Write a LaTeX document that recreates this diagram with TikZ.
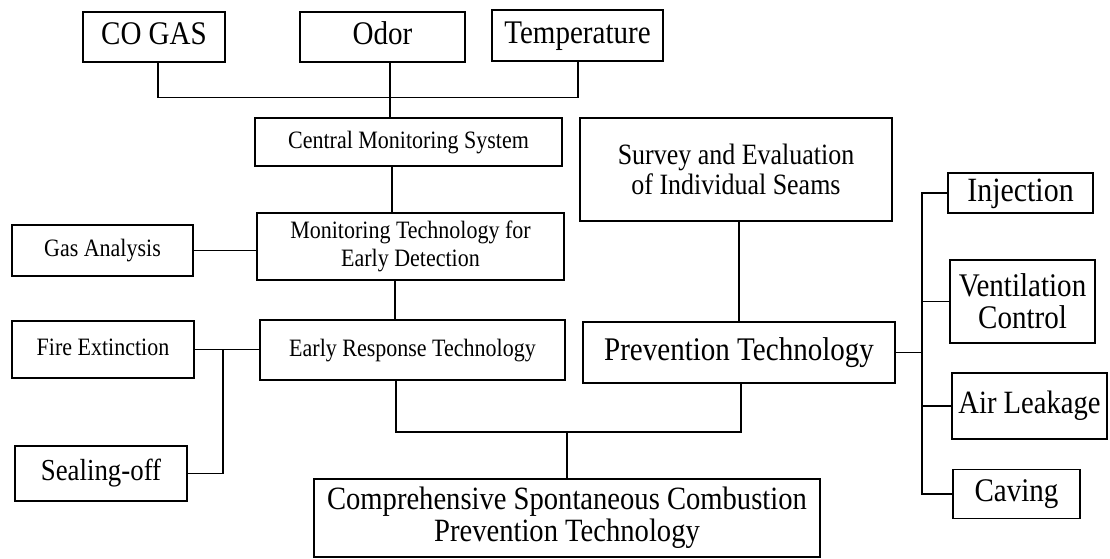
\documentclass[tikz,border=0pt]{standalone}
\usepackage{fontspec}
\setmainfont{Liberation Serif}[FakeStretch=0.88]
\newcommand\fsz[2]{\fontsize{#1pt}{#2pt}\selectfont}
\begin{document}
\begin{tikzpicture}[x=1pt,y=-1pt,
  box/.style={draw, line width=1.5pt, rectangle, inner sep=0pt, align=center},
  oneline/.style={box, font=\fsz{#1}{#1}, text height=0.68*#1pt, text depth=0.2*#1pt},
  link/.style={line width=1.8pt}]
\useasboundingbox[fill=white] (0,0) rectangle (1110,558);

% sensor inputs
\node[oneline=33, minimum width=142pt, minimum height=50pt] (cogas) at (154,37) {CO GAS};
\node[oneline=33, minimum width=165pt, minimum height=50pt] (odor) at (382.5,37) {Odor};
\node[oneline=33, minimum width=171pt, minimum height=51pt] (temp) at (577.5,35.5) {Temperature};

% detection and response chain
\node[oneline=25, minimum width=307pt, minimum height=48pt] (central) at (408.5,142) {Central Monitoring System};
\node[box, minimum width=307pt, minimum height=67pt, font=\fsz{25}{28}] (montech) at (410.5,246.5) {Monitoring Technology for\\Early Detection};
\node[oneline=25, minimum width=305pt, minimum height=60pt] (early) at (412.5,350) {Early Response Technology};

% left side measures
\node[oneline=25, minimum width=181pt, minimum height=51pt] (gas) at (102.5,250.5) {Gas Analysis};
\node[oneline=25, minimum width=182pt, minimum height=57pt] (fire) at (103,349.5) {Fire Extinction};
\node[oneline=30.5, minimum width=172pt, minimum height=55pt] (seal) at (101,473.5) {Sealing-off};

% prevention branch
\node[box, minimum width=312pt, minimum height=103pt, font=\fsz{29.5}{30}] (survey) at (736,169.5) {Survey and Evaluation\\of Individual Seams};
\node[oneline=33, minimum width=312pt, minimum height=61pt] (prev) at (739,352.5) {Prevention Technology};

% prevention methods
\node[oneline=34, minimum width=145pt, minimum height=40pt] (inj) at (1020.5,193) {Injection};
\node[box, minimum width=145pt, minimum height=83pt, font=\fsz{33}{32}] (vent) at (1022.5,301.5) {Ventilation\\Control};
\node[oneline=32.5, minimum width=155pt, minimum height=66pt] (air) at (1029.5,406) {Air Leakage};
\node[oneline=33, minimum width=127pt, minimum height=49pt] (cav) at (1016.5,494) {Caving};

% overall result
\node[box, minimum width=506pt, minimum height=78pt, font=\fsz{32.5}{32}] (comp) at (567,518) {Comprehensive Spontaneous Combustion\\Prevention Technology};

% sensor collector bar
\coordinate (barL) at (158,97.5);
\coordinate (barR) at (578,97.5);
\draw[link] (cogas.south -| barL) -- (barL) -- (barR) -- (temp.south -| barR);
\coordinate (odorx) at (390,0);
\draw[link] (odor.south -| odorx) -- (central.north -| odorx);

% vertical chain
\coordinate (c1) at (392,0);
\draw[link] (central.south -| c1) -- (montech.north -| c1);
\coordinate (c2) at (395,0);
\draw[link] (montech.south -| c2) -- (early.north -| c2);
\draw[link] (gas.east) -- (gas.east -| montech.west);

% extinction and sealing
\coordinate (junc) at (223,349.5);
\draw[link] (fire.east) -- (fire.east -| early.west);
\draw[link] (junc) |- (seal.east);

% survey to prevention
\draw[link] (survey.south -| prev.north) -- (prev.north);

% joining response and prevention
\coordinate (bkL) at (396,432);
\coordinate (bkM) at (567,432);
\coordinate (bkR) at (741,432);
\draw[link] (early.south -| bkL) -- (bkL) -- (bkR) -- (prev.south -| bkR);
\draw[link] (bkM) -- (comp.north);

% prevention methods bus
\coordinate (busT) at (922,193);
\draw[link] (inj.west) -- (busT) -- (busT |- cav.west) -- (cav.west);
\draw[link] (vent.west) -- (vent.west -| busT);
\draw[link] (air.west) -- (air.west -| busT);
\draw[link] (prev.east) -- (prev.east -| busT);
\end{tikzpicture}
\end{document}
